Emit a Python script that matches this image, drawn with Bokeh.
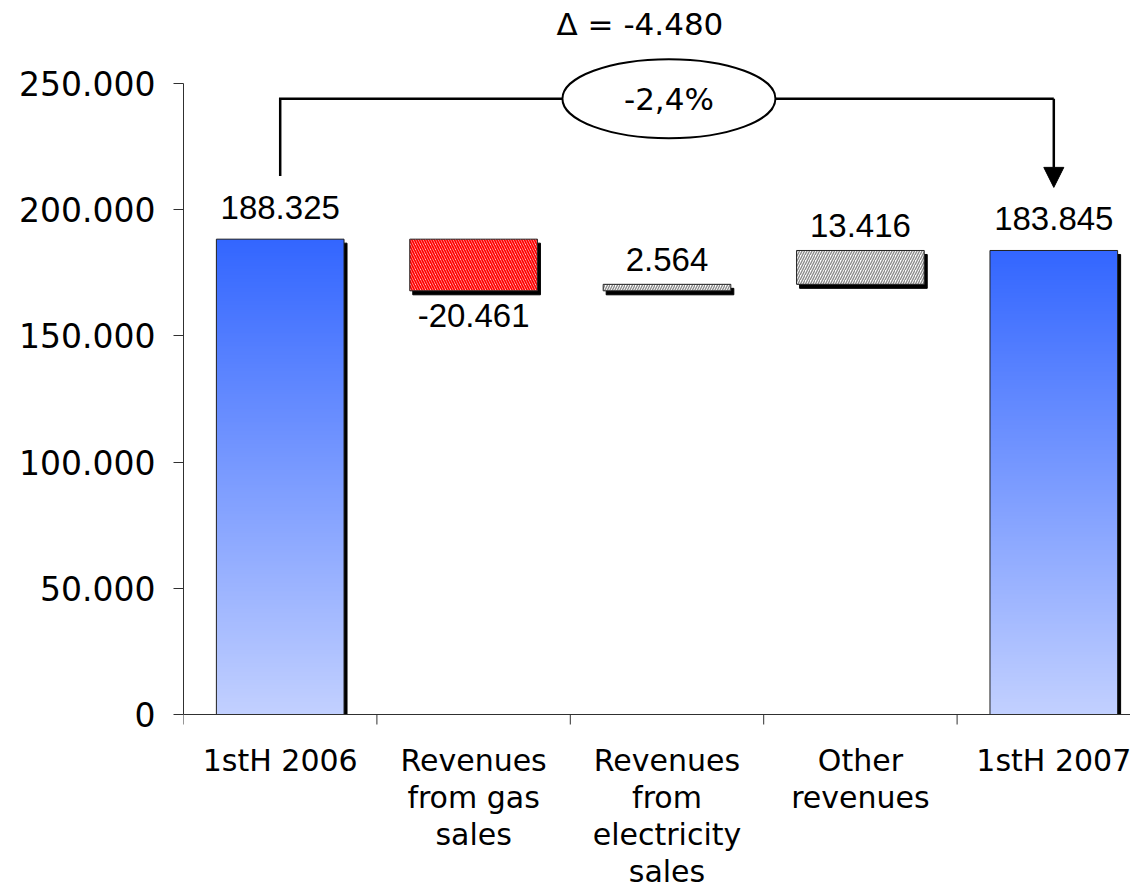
import numpy as np
from bokeh.plotting import figure
from bokeh.models import Range1d, FixedTicker, Arrow, NormalHead, Label
from bokeh.core.properties import value
from bokeh.embed import file_html
from bokeh.resources import INLINE

# ---------------- data ----------------
categories = ["1stH 2006", "Revenues\nfrom gas\nsales", "Revenues\nfrom\nelectricity\nsales",
              "Other\nrevenues", "1stH 2007"]
start_total = 188325
deltas = [-20461, 2564, 13416]
end_total = 183845
y_ticks = [0, 50000, 100000, 150000, 200000, 250000]

# ---------------- layout ----------------
FIG_W, FIG_H = 1130, 889
BORDER_L, BORDER_T = 183, 7
frame_w = FIG_W - BORDER_L
frame_h = FIG_H - BORDER_T
CAT_PX = 193.4                 # px per category
ZERO_PX = 707                  # px from frame top to the zero line
Y_PX = 631 / 250000            # px per unit
X_END = frame_w / CAT_PX
Y_END = ZERO_PX / Y_PX
Y_START = -(frame_h - ZERO_PX) / Y_PX

BAR_W = 0.66
CONNECT_Y = 244000
LEAD_GAP = 25000

def fmt(v):
    return f"{v:,}".replace(",", ".")

p = figure(width=FIG_W, height=FIG_H, output_backend="svg", toolbar_location=None,
           x_range=Range1d(0, X_END), y_range=Range1d(Y_START, Y_END),
           min_border_left=BORDER_L, min_border_right=0, min_border_top=BORDER_T,
           min_border_bottom=0)
p.outline_line_color = None
p.xgrid.visible = False
p.ygrid.visible = False
p.xaxis.visible = False
p.background_fill_color = "white"
p.border_fill_color = "white"

AX_C = "#303030"

# ---------------- bars geometry ----------------
n = len(categories)
centers = [i + 0.5 for i in range(n)]
bottoms, tops = [0], [start_total]
level = start_total
for d in deltas:
    bottoms.append(min(level, level + d))
    tops.append(max(level, level + d))
    level += d
bottoms.append(0)
tops.append(end_total)
lefts = [c - BAR_W / 2 for c in centers]
rights = [c + BAR_W / 2 for c in centers]

dx = 3 / CAT_PX
dy = 4 / Y_PX
# shadows (clipped at the zero line for the totals)
p.quad(left=[l + dx for l in lefts], right=[r + dx for r in rights],
       bottom=[0 if b == 0 else b - dy for b in bottoms],
       top=[t - dy for t in tops],
       fill_color="black", line_color="black")

# gradient totals
N = 256
img = np.empty((N, 1), dtype=np.uint32)
view = img.view(dtype=np.uint8).reshape((N, 1, 4))
top_c = np.array([51, 102, 255])
bot_c = np.array([194, 208, 255])
for i in range(N):
    t = i / (N - 1)
    c = bot_c + t * (top_c - bot_c)
    view[i, 0, 0] = int(round(c[0]))
    view[i, 0, 1] = int(round(c[1]))
    view[i, 0, 2] = int(round(c[2]))
    view[i, 0, 3] = 255
tot_idx = [0, n - 1]
p.image_rgba(image=[img, img], x=[lefts[i] for i in tot_idx], y=[0, 0],
             dw=[BAR_W, BAR_W], dh=[tops[i] for i in tot_idx])
p.quad(left=[lefts[i] for i in tot_idx], right=[rights[i] for i in tot_idx],
       bottom=[0, 0], top=[tops[i] for i in tot_idx],
       fill_color=None, line_color="#202020", line_width=1)

# delta bars
for k, d in enumerate(deltas):
    i = k + 1
    if d < 0:
        hc, pat, hw = "#FF0000", "\\", 1.8
    else:
        hc, pat, hw = "#8C8C8C", "/", 1.4
    p.quad(left=[lefts[i]], right=[rights[i]], bottom=[bottoms[i]], top=[tops[i]],
           fill_color="white", hatch_pattern=pat, hatch_color=hc, hatch_scale=5,
           hatch_weight=hw, line_color="#202020", line_width=1)

# ---------------- value labels ----------------
vals = [start_total] + deltas + [end_total]
for i, v in enumerate(vals):
    total = i in tot_idx
    if v >= 0:
        y = tops[i]
        off = -32 if total else -25
    else:
        y = bottoms[i]
        off = 25
    p.text(x=[centers[i]], y=[y], text=[fmt(v)], text_align="center",
           text_baseline="alphabetic", y_offset=off,
           text_font=value("Liberation Sans"), text_font_size="33px", text_color="black")

# ---------------- x axis (drawn at the zero line) ----------------
p.line(x=[0, X_END], y=[0, 0], line_color=AX_C, line_width=1)
bounds_x = list(range(n + 1))
p.segment(x0=bounds_x, y0=[0] * len(bounds_x), x1=bounds_x,
          y1=[-10 / Y_PX] * len(bounds_x), line_color=AX_C, line_width=1)
p.text(x=centers, y=[0] * n, text=categories, text_align="center", text_baseline="top",
       y_offset=28, text_font=value("DejaVu Sans"), text_font_size="30px",
       text_line_height=1.06, text_color="black")

# ---------------- connector ----------------
p.line(x=[centers[0], centers[0], centers[-1]],
       y=[start_total + LEAD_GAP, CONNECT_Y, CONNECT_Y],
       line_color="black", line_width=2.5, line_join="miter")
p.add_layout(Arrow(end=NormalHead(size=20, fill_color="black", line_color="black"),
                   x_start=centers[-1], y_start=CONNECT_Y,
                   x_end=centers[-1], y_end=end_total + LEAD_GAP,
                   line_color="black", line_width=2.5))
p.ellipse(x=[2.51], y=[CONNECT_Y], width=[213], height=[79],
          width_units="screen", height_units="screen",
          fill_color="white", line_color="black", line_width=2)
diff = end_total - start_total
pct = diff / start_total * 100
p.text(x=[2.51], y=[CONNECT_Y], text=[f"{pct:.1f}%".replace(".", ",")],
       text_align="center", text_baseline="middle",
       text_font=value("DejaVu Sans"), text_font_size="31px", text_color="black")
p.add_layout(Label(x=2.36, y=CONNECT_Y + 29500, text=f"\u0394 = {fmt(diff)}",
                   text_align="center", text_baseline="alphabetic",
                   text_font="DejaVu Sans", text_font_size="31px", text_color="black"))

# ---------------- y axis ----------------
ya = p.yaxis[0]
ya.ticker = FixedTicker(ticks=y_ticks, minor_ticks=[])
ya.major_label_overrides = {t: fmt(t) for t in y_ticks}
ya.bounds = (0, y_ticks[-1])
ya.major_tick_in = 0
ya.major_tick_out = 10
ya.minor_tick_line_color = None
ya.major_label_standoff = 18
ya.major_label_text_font = "DejaVu Sans"
ya.major_label_text_font_size = "33px"
ya.major_label_text_color = "black"
ya.axis_line_color = AX_C
ya.major_tick_line_color = AX_C

open("out.html", "w").write(file_html(p, INLINE))
